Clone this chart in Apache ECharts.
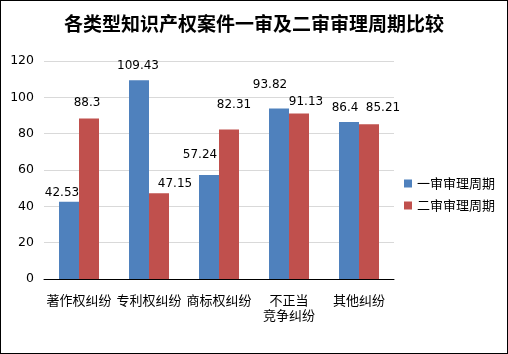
<!DOCTYPE html>
<html>
<head>
<meta charset="utf-8">
<script src="https://cdn.jsdelivr.net/npm/echarts@6/dist/echarts.min.js"></script>
<style>
  html, body { margin: 0; padding: 0; background: #fff; }
  #chart { width: 508px; height: 354px; box-sizing: border-box; border: 1px solid #000; }
</style>
</head>
<body>
<div id="chart"></div>
<script>
const categories = ['著作权纠纷', '专利权纠纷', '商标权纠纷', '不正当\n竞争纠纷', '其他纠纷']
const firstTrial = [42.53, 109.43, 57.24, 93.82, 86.4]
const secondTrial = [88.3, 47.15, 82.31, 91.13, 85.21]
const yTicks = [0, 20, 40, 60, 80, 100, 120]

// label nudges so that neighbouring labels do not overlap (like the original)
const firstNudge = [[-7, 4], [-1, -1], [-9, -7], [-9, -11], [-4, -1]]
const secondNudge = [[-2, -3], [16, 4], [5, -12], [7, 1], [14, -3]]

const labelStyle = {
  show: true,
  position: 'top',
  distance: 7,
  color: '#000',
  fontSize: 12,
  fontFamily: 'DejaVu Sans'
}

const withNudge = (values, nudge) => values.map((v, i) => ({
  value: v,
  label: { offset: nudge[i] }
}))

const option = {
  backgroundColor: '#fff',
  animation: false,
  title: {
    text: '各类型知识产权案件一审及二审审理周期比较',
    left: 'center',
    top: 8,
    textStyle: {
      fontFamily: 'Noto Sans CJK SC',
      fontSize: 19,
      fontWeight: 'bold',
      color: '#000'
    }
  },
  legend: {
    orient: 'vertical',
    left: 398,
    top: 171,
    itemWidth: 8,
    itemHeight: 8,
    itemGap: 9,
    icon: 'rect',
    textStyle: { fontFamily: 'Noto Sans CJK SC', fontSize: 13, color: '#000' },
    data: ['一审审理周期', '二审审理周期']
  },
  grid: { left: 43, top: 60, width: 350, height: 218 },
  xAxis: {
    type: 'category',
    data: categories,
    axisLine: { lineStyle: { color: '#000', width: 1 } },
    axisTick: { show: false },
    axisLabel: {
      color: '#000',
      fontFamily: 'Noto Sans CJK SC',
      fontSize: 13,
      margin: 14,
      lineHeight: 15,
      interval: 0
    }
  },
  yAxis: {
    type: 'value',
    min: yTicks[0],
    max: yTicks[yTicks.length - 1],
    interval: 20,
    axisLine: { show: false },
    axisTick: { show: false },
    splitLine: { lineStyle: { color: '#d9d9d9' } },
    axisLabel: { color: '#000', fontFamily: 'DejaVu Sans', fontSize: 12.5, margin: 10 }
  },
  series: [
    {
      name: '一审审理周期',
      type: 'bar',
      data: withNudge(firstTrial, firstNudge),
      barWidth: 20,
      barGap: '0%',
      itemStyle: { color: '#4F81BD' },
      label: labelStyle
    },
    {
      name: '二审审理周期',
      type: 'bar',
      data: withNudge(secondTrial, secondNudge),
      barWidth: 20,
      barGap: '0%',
      itemStyle: { color: '#C0504D' },
      label: labelStyle
    }
  ]
}

const myChart = echarts.init(document.getElementById('chart'))
myChart.setOption(option)
</script>
</body>
</html>
